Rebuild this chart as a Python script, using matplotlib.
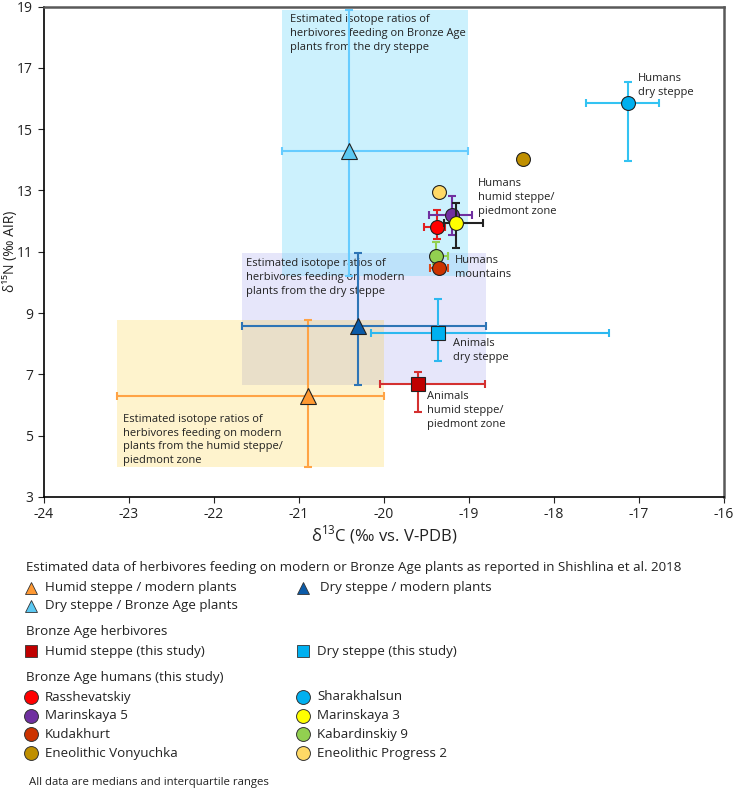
import numpy as np
import matplotlib.pyplot as plt
from matplotlib.patches import Rectangle

plt.rcParams['font.family'] = ['Open Sans', 'DejaVu Sans']
plt.rcParams['mathtext.fontset'] = 'custom'
plt.rcParams['mathtext.rm'] = 'Open Sans'
plt.rcParams['axes.unicode_minus'] = False

# Estimated herbivore values (Shishlina et al. 2018): median and IQR
est_names = ['Humid steppe / modern plants', 'Dry steppe / modern plants', 'Dry steppe / Bronze Age plants']
est_x = [-20.90, -20.31, -20.41]
est_x_lo = [-23.14, -21.67, -21.20]
est_x_hi = [-20.00, -18.80, -19.01]
est_y = [6.30, 8.58, 14.30]
est_y_lo = [3.97, 6.64, 10.20]
est_y_hi = [8.79, 10.97, 18.89]
est_fill = ['#FF9933', '#0B5BA8', '#5BC8F2']
est_bar = ['#FFA345', '#2E75B6', '#66CCFF']
box_color = ['#FAC305', '#E6E6FA', '#80DEFC']
box_alpha = [0.2, 1.0, 0.4]
box_z = [1, 0, 2]
box_text = ['Estimated isotope ratios of\nherbivores feeding on modern\nplants from the humid steppe/\npiedmont zone',
            'Estimated isotope ratios of\nherbivores feeding on modern\nplants from the dry steppe',
            'Estimated isotope ratios of\nherbivores feeding on Bronze Age\nplants from the dry steppe']

# Bronze Age herbivores (this study)
ani_names = ['Humid steppe (this study)', 'Dry steppe (this study)']
ani_x = [-19.60, -19.36]
ani_x_lo = [-20.05, -20.15]
ani_x_hi = [-18.81, -17.35]
ani_y = [6.68, 8.36]
ani_y_lo = [5.77, 7.42]
ani_y_hi = [7.09, 9.45]
ani_fill = ['#C00000', '#00B0F0']
ani_bar = ['#D43030', '#2CB8F0']

# Bronze Age humans (this study)
hum_names = ['Sharakhalsun', 'Eneolithic Vonyuchka', 'Eneolithic Progress 2', 'Kabardinskiy 9',
             'Kudakhurt', 'Rasshevatskiy', 'Marinskaya 5', 'Marinskaya 3']
hum_x = [-17.13, -18.37, -19.35, -19.39, -19.35, -19.38, -19.20, -19.15]
hum_x_lo = [-17.62, -18.37, -19.35, -19.45, -19.46, -19.53, -19.47, -19.30]
hum_x_hi = [-16.76, -18.37, -19.35, -19.25, -19.25, -19.28, -18.96, -18.84]
hum_y = [15.84, 14.03, 12.96, 10.86, 10.46, 11.80, 12.20, 11.93]
hum_y_lo = [13.96, 14.03, 12.96, 10.60, 10.46, 11.41, 11.55, 11.13]
hum_y_hi = [16.54, 14.03, 12.96, 11.33, 10.46, 12.36, 12.82, 12.58]
hum_fill = ['#00B0F0', '#BF8F00', '#FFD966', '#92D050', '#CC3300', '#FF0000', '#7030A0', '#FFFF00']
hum_bar = ['#33C3F2', '#BF8F00', '#FFD966', '#92D050', '#E04A1A', '#E02020', '#7030A0', '#222222']

fig = plt.figure(figsize=(7.37, 7.91), dpi=100)
ax = fig.add_axes([44 / 737, 1 - 497 / 791, 680 / 737, 490.5 / 791])

# IQR boxes of estimated values
for i in range(3):
    ax.add_patch(Rectangle((est_x_lo[i], est_y_lo[i]), est_x_hi[i] - est_x_lo[i], est_y_hi[i] - est_y_lo[i],
                           facecolor=box_color[i], alpha=box_alpha[i], edgecolor='none', zorder=box_z[i]))

text_pos = [(-23.07, 4.0, 'bottom'), (-21.62, 10.8, 'top'), (-21.11, 18.75, 'top')]
for i in range(3):
    tx, ty, va = text_pos[i]
    ax.text(tx, ty, box_text[i], fontsize=8, va=va, ha='left', color='#222222', linespacing=1.36, zorder=3)

def draw(x, lo_x, hi_x, y, lo_y, hi_y, fill, bar, marker, ms, z):
    ax.errorbar(x, y, xerr=[[x - lo_x], [hi_x - x]], yerr=[[y - lo_y], [hi_y - y]],
                fmt='none', ecolor=bar, elinewidth=1.5, capsize=3, capthick=1.5, zorder=z)
    ax.plot(x, y, marker=marker, ms=ms, mfc=fill, mec='#222222', mew=0.8, ls='none', zorder=z + 0.5)

z = 5
for i in range(3):
    draw(est_x[i], est_x_lo[i], est_x_hi[i], est_y[i], est_y_lo[i], est_y_hi[i], est_fill[i], est_bar[i], '^', 12, z)
    z += 1
for i in range(2):
    draw(ani_x[i], ani_x_lo[i], ani_x_hi[i], ani_y[i], ani_y_lo[i], ani_y_hi[i], ani_fill[i], ani_bar[i], 's', 10, z)
    z += 1
for i in range(len(hum_names)):
    draw(hum_x[i], hum_x_lo[i], hum_x_hi[i], hum_y[i], hum_y_lo[i], hum_y_hi[i], hum_fill[i], hum_bar[i], 'o', 10, z)
    z += 1

# group labels
labels = [(-17.01, 16.84, 'Humans\ndry steppe'),
          (-18.89, 13.4, 'Humans\nhumid steppe/\npiedmont zone'),
          (-19.17, 10.9, 'Humans\nmountains'),
          (-19.19, 8.18, 'Animals\ndry steppe'),
          (-19.49, 6.45, 'Animals\nhumid steppe/\npiedmont zone')]
for lx, ly, lt in labels:
    ax.text(lx, ly, lt, fontsize=8, va='top', ha='left', color='#222222', linespacing=1.36, zorder=30)

ax.set_xlim(-24, -16)
ax.set_ylim(3, 19)
ax.set_xticks(np.arange(-24, -15, 1))
ax.set_yticks(np.arange(3, 20, 2))
ax.tick_params(direction='out', length=4, labelsize=10, colors='#222222')
ax.tick_params(axis='y', pad=4)
for s in ['left', 'bottom']:
    ax.spines[s].set_color('black')
    ax.spines[s].set_linewidth(1.2)
for s in ['top', 'right']:
    ax.spines[s].set_color('#595959')
    ax.spines[s].set_linewidth(1.8)
ax.set_xlabel(r'δ$^{\mathregular{13}}$C (‰ vs. V-PDB)', fontsize=12, color='#222222', labelpad=1)
ax.set_ylabel('δ¹⁵N (‰ AIR)', fontsize=10, color='#222222')
ax.yaxis.set_label_coords(-26 / 680, 0.5)

# legend below the plot, laid out in pixel coordinates
lg = fig.add_axes([0, 0, 1, 1])
lg.set_xlim(0, 737)
lg.set_ylim(791, 0)
lg.axis('off')
lg.patch.set_visible(False)

fs = 9.6
col = [31, 303]
txt = [45, 317]
lg.text(26, 567, 'Estimated data of herbivores feeding on modern or Bronze Age plants as reported in Shishlina et al. 2018',
        fontsize=fs, va='center', color='#222222')
est_leg = [(0, 588), (1, 588), (0, 606)]
for i in range(3):
    c, my = est_leg[i]
    lg.plot(col[c], my, marker='^', ms=8.5, mfc=est_fill[i], mec='#333333', mew=0.6)
    lg.text(txt[c] + (3 if c == 1 else 0), my, est_names[i], fontsize=fs, va='center', color='#222222')

lg.text(26, 632, 'Bronze Age herbivores', fontsize=fs, va='center', color='#222222')
for i in range(2):
    lg.plot(col[i], 651, marker='s', ms=8.5, mfc=ani_fill[i], mec='#333333', mew=0.6)
    lg.text(txt[i], 651, ani_names[i], fontsize=fs, va='center', color='#222222')

lg.text(26, 678, 'Bronze Age humans (this study)', fontsize=fs, va='center', color='#222222')
hum_leg_order = ['Rasshevatskiy', 'Marinskaya 5', 'Kudakhurt', 'Eneolithic Vonyuchka',
                 'Sharakhalsun', 'Marinskaya 3', 'Kabardinskiy 9', 'Eneolithic Progress 2']
for k, name in enumerate(hum_leg_order):
    i = hum_names.index(name)
    c = 0 if k < 4 else 1
    my = 697 + (k % 4) * 18.7
    lg.plot(col[c], my, marker='o', ms=10, mfc=hum_fill[i], mec='#333333', mew=0.7)
    lg.text(txt[c], my, name, fontsize=fs, va='center', color='#222222')

lg.text(29.5, 783, 'All data are medians and interquartile ranges', fontsize=8.2, va='center', color='#222222')

fig.savefig('out.png', dpi=100)
